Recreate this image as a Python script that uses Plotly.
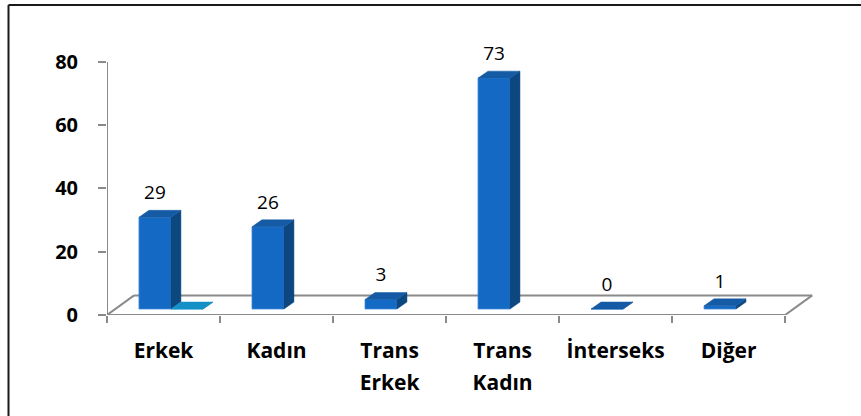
import plotly.graph_objects as go

# ---------------- data ----------------
categories = ["Erkek", "Kadın", "Trans Erkek", "Trans Kadın", "İnterseks", "Diğer"]
label_line1 = ["Erkek", "Kadın", "Trans", "Trans", "İnterseks", "Diğer"]
label_line2 = ["", "", "Erkek", "Kadın", "", ""]
series1 = [29, 26, 3, 73, 0, 1]
series2 = [0, None, None, None, None, None]
y_ticks = [0, 20, 40, 60, 80]

# ---------------- geometry / style ----------------
BAR_W = 0.283
OFF = 0.283          # left edge of first series within category
BASE = 1.9           # bars stand in the middle of the floor depth
DX, DY = 0.088, 2.2  # bar depth projection
FLOOR_DX, FLOOR_DY = 0.24, 6.2
LABEL_GAP = 7.2
XMAX = 6.3
YMAX_AXIS = 80
YMAX_VIEW = 92
FONT = "Open Sans"
AXIS_GREY = "#8a8a8a"

S1 = dict(front="#1469C4", side="#0C477F", top="#145AA5", edge="#3f86d6")
S2 = dict(front="#1EA5DE", side="#0F6E9A", top="#1590C6", edge="#4fb8e6")

fig = go.Figure()


def add_series(vals, offset, col, name):
    xs, ys = [], []
    sx, sy, tx, ty = [], [], [], []
    for i, v in enumerate(vals):
        if v is None:
            continue
        x0 = i + offset
        x1 = x0 + BAR_W
        top = BASE + v
        xs.append((x0 + x1) / 2)
        ys.append(v)
        # side face
        sx += [x1, x1 + DX, x1 + DX, x1, x1, None]
        sy += [BASE, BASE + DY, top + DY, top, BASE, None]
        # top face
        tx += [x0, x1, x1 + DX, x0 + DX, x0, None]
        ty += [top, top, top + DY, top + DY, top, None]
    fig.add_trace(go.Bar(x=xs, y=ys, base=BASE, width=BAR_W, name=name,
                         marker=dict(color=col["front"], line=dict(color=col["edge"], width=0.8)),
                         hoverinfo="skip", showlegend=False))
    fig.add_trace(go.Scatter(x=sx, y=sy, mode="lines", fill="toself", fillcolor=col["side"],
                             line=dict(color=col["side"], width=0.5), hoverinfo="skip",
                             showlegend=False))
    fig.add_trace(go.Scatter(x=tx, y=ty, mode="lines", fill="toself", fillcolor=col["top"],
                             line=dict(color=col["top"], width=0.5), hoverinfo="skip",
                             showlegend=False))
    return xs, ys


lx, ly = add_series(series1, OFF, S1, "Seri 1")
add_series(series2, OFF + BAR_W, S2, "Seri 2")

# data labels (series 1)
fig.add_trace(go.Scatter(
    x=lx, y=[BASE + v + LABEL_GAP for v in ly], mode="text",
    text=[str(v) for v in ly], textposition="middle center",
    textfont=dict(family=FONT, size=19, color="#000000"),
    hoverinfo="skip", showlegend=False, cliponaxis=False))

# floor / walls / value axis line
n = len(categories)
lines = [
    (0, 0, n, 0),
    (0, 0, FLOOR_DX, FLOOR_DY),
    (FLOOR_DX, FLOOR_DY, n + FLOOR_DX, FLOOR_DY),
    (n, 0, n + FLOOR_DX, FLOOR_DY),
    (0, 0, 0, YMAX_AXIS),
]
shapes = []
for (a, b, c, d) in lines:
    shapes.append(dict(type="line", xref="x", yref="y", x0=a, y0=b, x1=c, y1=d,
                       line=dict(color=AXIS_GREY, width=2), layer="below"))

# geometry of the plot area (80 at y=62px, 0 at y=315px)
W, H = 861, 416
L, R, B = 107, 42, 101
PX_PER_UNIT = (315 - 62) / YMAX_AXIS
T = 62 - (YMAX_VIEW - YMAX_AXIS) * PX_PER_UNIT
pw, ph = W - L - R, H - T - B

# outer frame (only left and top edges visible)
fx = (8.5 - L) / pw
fy = (H - B - 5) / ph
shapes.append(dict(type="line", xref="paper", yref="paper", x0=fx, y0=-1, x1=fx, y1=fy,
                   line=dict(color="#1a1a1a", width=2)))
shapes.append(dict(type="line", xref="paper", yref="paper", x0=fx, y0=fy, x1=2, y1=fy,
                   line=dict(color="#1a1a1a", width=2)))

centers = [i + 0.5 for i in range(n)]
fig.update_layout(
    width=W, height=H,
    margin=dict(l=L, r=R, t=T, b=B, autoexpand=False),
    paper_bgcolor="white", plot_bgcolor="white",
    barmode="overlay",
    showlegend=False,
    shapes=shapes,
    xaxis=dict(range=[0, XMAX], tickvals=list(range(n + 1)), ticktext=[""] * (n + 1),
               ticks="outside", ticklen=7, tickwidth=2, tickcolor=AXIS_GREY,
               showline=False, showgrid=False, zeroline=False, fixedrange=True),
    xaxis2=dict(range=[0, XMAX], overlaying="x", anchor="y", side="bottom",
                tickvals=centers, ticktext=label_line1, ticks="",
                tickfont=dict(family=FONT, size=21, color="#000000", weight="bold"),
                ticklabelstandoff=21,
                showline=False, showgrid=False, zeroline=False),
    xaxis3=dict(range=[0, XMAX], overlaying="x", anchor="y", side="bottom",
                tickvals=centers, ticktext=label_line2, ticks="",
                tickfont=dict(family=FONT, size=21, color="#000000", weight="bold"),
                ticklabelstandoff=53,
                showline=False, showgrid=False, zeroline=False),
    yaxis=dict(range=[0, YMAX_VIEW], tickvals=y_ticks, ticks="outside", ticklen=8, tickwidth=2,
               tickcolor=AXIS_GREY, showline=False,
               showgrid=False, zeroline=False, ticklabelstandoff=16,
               tickfont=dict(family=FONT, size=20, color="#000000", weight="bold")),
)

# dummy traces so xaxis2/xaxis3 render
fig.add_trace(go.Scatter(x=[None], y=[None], xaxis="x2", showlegend=False, hoverinfo="skip"))
fig.add_trace(go.Scatter(x=[None], y=[None], xaxis="x3", showlegend=False, hoverinfo="skip"))

fig.write_html("out.html", config={"displayModeBar": False},
               post_script="document.body.style.margin='0';document.body.style.overflow='hidden';")
